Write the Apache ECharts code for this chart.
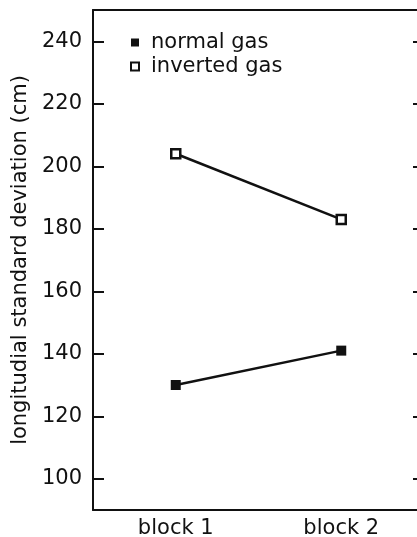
<!DOCTYPE html>
<html>
<head>
<meta charset="utf-8">
<script src="https://cdn.jsdelivr.net/npm/echarts@6/dist/echarts.min.js"></script>
<style>
  html, body { margin: 0; padding: 0; background: #fff; }
  #chart { width: 417px; height: 537px; }
</style>
</head>
<body>
<div id="chart"></div>
<script>
// data
const blocks = ['block 1', 'block 2'];
const normalGas = [130, 141];
const invertedGas = [204, 183];
const yTicks = [100, 120, 140, 160, 180, 200, 220, 240];

const ink = '#111';
const font = 'DejaVu Sans, sans-serif';

const chart = echarts.init(document.getElementById('chart'));

const option = {
    animation: false,
    backgroundColor: '#fff',
    grid: {
        left: 93,
        top: 10,
        width: 331,
        bottom: 27,
        containLabel: false,
        outerBoundsMode: 'none'
    },
    legend: {
        orient: 'vertical',
        left: 130,
        top: 32,
        padding: 0,
        itemWidth: 8,
        itemHeight: 8,
        itemGap: 3,
        textStyle: {
            fontFamily: font,
            fontSize: 21,
            color: ink,
            padding: [0, 0, 0, 7]
        },
        data: [
            { name: 'normal gas', icon: 'rect', itemStyle: { color: ink, borderWidth: 0 } },
            { name: 'inverted gas', icon: 'rect', itemStyle: { color: '#fff', borderColor: ink, borderWidth: 2 } }
        ]
    },
    xAxis: [
        {
            type: 'category',
            position: 'bottom',
            data: blocks,
            axisLine: { lineStyle: { color: ink, width: 2 } },
            axisTick: { inside: true, length: 12, alignWithLabel: true, lineStyle: { color: ink, width: 2 } },
            axisLabel: { fontFamily: font, fontSize: 21, color: ink, margin: 8 }
        },
        {
            type: 'category',
            position: 'top',
            data: blocks,
            axisLine: { lineStyle: { color: ink, width: 2 } },
            axisTick: { inside: true, length: 12, alignWithLabel: true, lineStyle: { color: ink, width: 2 } },
            axisLabel: { show: false }
        }
    ],
    yAxis: [
        {
            type: 'value',
            position: 'left',
            min: 90,
            max: 250,
            name: 'longitudial standard deviation (cm)',
            nameLocation: 'middle',
            nameGap: 56,
            nameTextStyle: { fontFamily: font, fontSize: 21, color: ink },
            axisLine: { show: true, lineStyle: { color: ink, width: 2 } },
            axisTick: { show: true, inside: true, length: 11, customValues: yTicks, lineStyle: { color: ink, width: 2 } },
            axisLabel: { fontFamily: font, fontSize: 21, color: ink, margin: 11, customValues: yTicks },
            splitLine: { show: false }
        },
        {
            type: 'value',
            position: 'right',
            min: 90,
            max: 250,
            axisLine: { show: true, lineStyle: { color: ink, width: 2 } },
            axisTick: { show: true, inside: true, length: 11, customValues: yTicks, lineStyle: { color: ink, width: 2 } },
            axisLabel: { show: false },
            splitLine: { show: false }
        }
    ],
    series: [
        {
            name: 'normal gas',
            type: 'line',
            data: normalGas,
            symbol: 'rect',
            symbolSize: 10,
            itemStyle: { color: ink },
            lineStyle: { color: ink, width: 2.5 }
        },
        {
            name: 'inverted gas',
            type: 'line',
            data: invertedGas,
            symbol: 'rect',
            symbolSize: 9,
            itemStyle: { color: '#fff', borderColor: ink, borderWidth: 2.5 },
            lineStyle: { color: ink, width: 2.5 }
        }
    ]
};

chart.setOption(option);
</script>
</body>
</html>
